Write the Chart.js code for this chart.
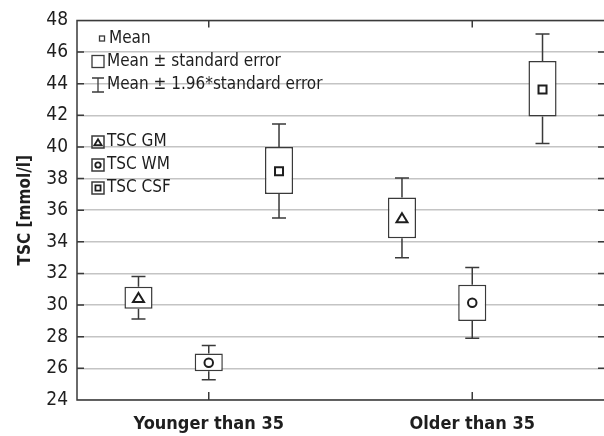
<!DOCTYPE html>
<html>
<head>
<meta charset="utf-8">
<script src="https://cdn.jsdelivr.net/npm/chart.js@4.4.1/dist/chart.umd.min.js"></script>
<style>
  html, body { margin: 0; padding: 0; background: #fff; }
  #wrap { width: 604px; height: 436px; position: relative; }
</style>
</head>
<body>
<div id="wrap"><canvas id="chart"></canvas></div>
<script>
// --- Data ---
const categories = ['Younger than 35', 'Older than 35'];
const seriesNames = ['TSC GM', 'TSC WM', 'TSC CSF'];
const seriesMarkers = ['triangle', 'circle', 'square'];

// mean
const gmMean = [30.45, 35.49];
const wmMean = [26.35, 30.15];
const csfMean = [38.47, 43.63];
// mean +/- standard error (box)
const gmSeLow = [29.77, 34.23];
const gmSeHigh = [31.16, 36.81];
const wmSeLow = [25.81, 29.0];
const wmSeHigh = [26.94, 31.29];
const csfSeLow = [37.02, 41.93];
const csfSeHigh = [40.0, 45.44];
// mean +/- 1.96*standard error (whiskers)
const gmCiLow = [29.12, 32.99];
const gmCiHigh = [31.81, 38.03];
const wmCiLow = [25.28, 27.91];
const wmCiHigh = [27.44, 32.38];
const csfCiLow = [35.51, 40.21];
const csfCiHigh = [41.45, 47.14];

const yTicks = [24, 26, 28, 30, 32, 34, 36, 38, 40, 42, 44, 46, 48];
const statLabels = ['Mean', 'Mean \u00B1 standard error', 'Mean \u00B1 1.96*standard error'];
const yTitle = 'TSC [mmol/l]';

const FONT = "'Liberation Sans Narrow', 'DejaVu Sans Condensed', sans-serif";
const INK = '#1e1e1e';
const FRAME = '#3a3a3a';

const means = [gmMean, wmMean, csfMean];
const seLow = [gmSeLow, wmSeLow, csfSeLow];
const seHigh = [gmSeHigh, wmSeHigh, csfSeHigh];
const ciLow = [gmCiLow, wmCiLow, csfCiLow];
const ciHigh = [gmCiHigh, wmCiHigh, csfCiHigh];

const datasets = seriesNames.map((name, i) => ({
    label: name,
    data: categories.map((c, j) => [seLow[i][j], seHigh[i][j]]),
    backgroundColor: '#ffffff',
    borderColor: FRAME,
    borderWidth: 1.5,
    borderSkipped: false,
    categoryPercentage: 0.8,
    barPercentage: 0.4
}));

function drawMarker(ctx, shape, x, y, r) {
    ctx.beginPath();
    if (shape === 'triangle') {
        ctx.moveTo(x, y - r);
        ctx.lineTo(x + r * 1.1, y + r * 0.8);
        ctx.lineTo(x - r * 1.1, y + r * 0.8);
        ctx.closePath();
    } else if (shape === 'circle') {
        ctx.arc(x, y, r * 0.85, 0, Math.PI * 2);
    } else {
        ctx.rect(x - r * 0.8, y - r * 0.8, r * 1.6, r * 1.6);
    }
    ctx.stroke();
}

// whiskers + mean markers
const boxDecor = {
    id: 'boxDecor',
    afterDatasetsDraw(chart) {
        const ctx = chart.ctx;
        const y = chart.scales.y;
        ctx.save();
        datasets.forEach((ds, i) => {
            const meta = chart.getDatasetMeta(i);
            meta.data.forEach((bar, j) => {
                const x = bar.x;
                const cap = 7;
                ctx.strokeStyle = FRAME;
                ctx.lineWidth = 1.5;
                ctx.beginPath();
                ctx.moveTo(x, y.getPixelForValue(seHigh[i][j]));
                ctx.lineTo(x, y.getPixelForValue(ciHigh[i][j]));
                ctx.moveTo(x - cap, y.getPixelForValue(ciHigh[i][j]));
                ctx.lineTo(x + cap, y.getPixelForValue(ciHigh[i][j]));
                ctx.moveTo(x, y.getPixelForValue(seLow[i][j]));
                ctx.lineTo(x, y.getPixelForValue(ciLow[i][j]));
                ctx.moveTo(x - cap, y.getPixelForValue(ciLow[i][j]));
                ctx.lineTo(x + cap, y.getPixelForValue(ciLow[i][j]));
                ctx.stroke();
                ctx.strokeStyle = INK;
                ctx.lineWidth = 2;
                drawMarker(ctx, seriesMarkers[i], x, y.getPixelForValue(means[i][j]), 5);
            });
        });
        ctx.restore();
    }
};

// frame (right side runs off the picture), inward ticks and the in-plot legend
const frameAndLegend = {
    id: 'frameAndLegend',
    afterDraw(chart) {
        const ctx = chart.ctx;
        const a = chart.chartArea;
        const y = chart.scales.y;
        const x = chart.scales.x;
        ctx.save();
        ctx.strokeStyle = FRAME;
        ctx.lineWidth = 1.5;
        ctx.beginPath();
        ctx.moveTo(a.right, a.top); ctx.lineTo(a.left, a.top);
        ctx.lineTo(a.left, a.bottom); ctx.lineTo(a.right, a.bottom);
        yTicks.forEach(v => {
            const py = y.getPixelForValue(v);
            ctx.moveTo(a.left, py); ctx.lineTo(a.left + 7, py);
            ctx.moveTo(a.right - 6, py); ctx.lineTo(a.right, py);
        });
        categories.forEach((c, j) => {
            const px = x.getPixelForValue(j);
            ctx.moveTo(px, a.top); ctx.lineTo(px, a.top + 7);
            ctx.moveTo(px, a.bottom - 8); ctx.lineTo(px, a.bottom);
        });
        ctx.stroke();

        // legend: statistics
        const lx = a.left + 21;
        ctx.fillStyle = INK;
        ctx.font = '17px ' + FONT;
        ctx.textBaseline = 'middle';
        ctx.textAlign = 'left';
        const rows = [38.5, 61.5, 85];
        ctx.strokeStyle = FRAME;
        ctx.lineWidth = 1.3;
        ctx.strokeRect(lx + 1.5, rows[0] - 2.5, 5, 5);
        ctx.strokeRect(lx - 6, rows[1] - 6, 12, 12);
        ctx.beginPath();
        ctx.moveTo(lx - 6, rows[2] - 7); ctx.lineTo(lx + 6, rows[2] - 7);
        ctx.moveTo(lx, rows[2] - 7); ctx.lineTo(lx, rows[2] + 7);
        ctx.moveTo(lx - 6, rows[2] + 7); ctx.lineTo(lx + 6, rows[2] + 7);
        ctx.stroke();
        ctx.fillText(statLabels[0], lx + 11, rows[0]);
        ctx.fillText(statLabels[1], lx + 9, rows[1]);
        ctx.fillText(statLabels[2], lx + 9, rows[2]);

        // legend: series
        const srows = [142, 165, 188];
        seriesNames.forEach((name, i) => {
            ctx.strokeStyle = FRAME;
            ctx.lineWidth = 1.5;
            ctx.strokeRect(lx - 6, srows[i] - 6, 12, 12);
            ctx.strokeStyle = INK;
            ctx.lineWidth = 1.8;
            drawMarker(ctx, seriesMarkers[i], lx, srows[i] + (i === 0 ? 0.5 : 0), 3.2);
            ctx.fillText(name, lx + 9, srows[i]);
        });
        ctx.restore();
    }
};

new Chart(document.getElementById('chart'), {
    type: 'bar',
    data: { labels: categories, datasets: datasets },
    options: {
        responsive: true,
        maintainAspectRatio: false,
        animation: false,
        layout: { padding: { top: 19, right: 0, left: 0, bottom: 0 } },
        plugins: {
            legend: { display: false },
            tooltip: { enabled: false }
        },
        scales: {
            x: {
                grid: { display: false, drawTicks: false },
                border: { display: false },
                ticks: {
                    color: INK,
                    padding: 14,
                    font: { family: FONT, size: 18, weight: 'bold' }
                },
                afterFit: s => { s.height = 36; }
            },
            y: {
                min: 24,
                max: 48,
                afterBuildTicks: s => { s.ticks = yTicks.map(v => ({ value: v })); },
                grid: { color: '#c4c4c4', lineWidth: 1.5, drawTicks: false },
                border: { display: false },
                ticks: {
                    color: INK,
                    padding: 9,
                    font: { family: FONT, size: 19 }
                },
                title: {
                    display: true,
                    text: yTitle,
                    color: INK,
                    padding: { top: 15, bottom: 0 },
                    font: { family: FONT, size: 17, weight: 'bold' }
                },
                afterFit: s => { s.width = 77; }
            }
        }
    },
    plugins: [boxDecor, frameAndLegend]
});
</script>
</body>
</html>
